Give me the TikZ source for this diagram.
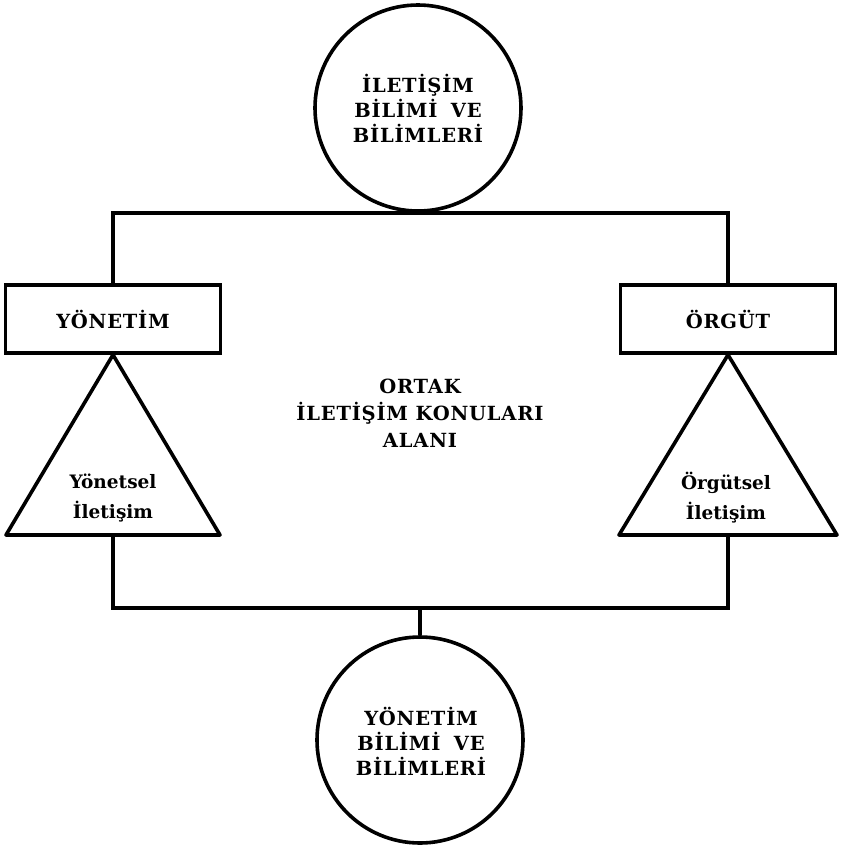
\documentclass[tikz,border=0pt]{standalone}
\usepackage{fontspec}
\setmainfont{DejaVu Serif}
\begin{document}
\begin{tikzpicture}[x=1pt, y=-1pt, line width=3.6pt,
  caps/.style={font=\bfseries\fontsize{19.5}{25}\selectfont\addfontfeature{LetterSpace=4}, align=center, inner sep=0pt},
  small/.style={font=\bfseries\fontsize{18.5}{30}\selectfont, align=center, inner sep=0pt},
  field/.style={draw, circle, minimum size=206pt, inner sep=0pt},
  areabox/.style={draw, rectangle, minimum width=215pt, minimum height=68pt, inner sep=0pt},
  frame/.style={line join=miter}
]
\useasboundingbox (0,0) rectangle (845,847);

% outer sciences
\node[field] (iletisim) at (418,108) {};
\node[caps] at (418,108) {İLETİŞİM\\BİLİMİ\hspace{0.3em} VE\\BİLİMLERİ};
\node[field] (yonbilim) at (420,740) {};
\node[caps] at (421,741) {YÖNETİM\\BİLİMİ\hspace{0.3em} VE\\BİLİMLERİ};

% the two fields
\node[areabox] (yonetim) at (113,319) {};
\node[caps] at (113,319) {YÖNETİM};
\node[areabox] (orgut) at (728,319) {};
\node[caps] at (728,319) {ÖRGÜT};

% triangles hanging under the boxes
\coordinate (ly) at (6,535);
\coordinate (ry) at (220,535);
\coordinate (lo) at (619,535);
\coordinate (ro) at (837,535);
\draw[line join=round] (yonetim.south) -- (ly) -- (ry) -- cycle;
\draw[line join=round] (orgut.south) -- (lo) -- (ro) -- cycle;
\coordinate (ybase) at (113,535);
\coordinate (obase) at (728,535);
\node[small] at (113,498) {Yönetsel\\İletişim};
\node[small] at (726,498) {Örgütsel\\İletişim};

% frame of the common area
\draw[frame] (yonetim.north) |- (iletisim.south) -| (orgut.north);
\coordinate (bl) at (113,608);
\coordinate (br) at (728,608);
\draw[frame] (ybase) -- (bl) -- (br) -- (obase);
\coordinate (bm) at (420,608);
\draw (bm) -- (yonbilim.north);

% centre label
\node[caps, font=\bfseries\fontsize{19.5}{27}\selectfont\addfontfeature{LetterSpace=4}] (ortak) at (420,413) {ORTAK\\İLETİŞİM KONULARI\\ALANI};
\end{tikzpicture}
\end{document}
